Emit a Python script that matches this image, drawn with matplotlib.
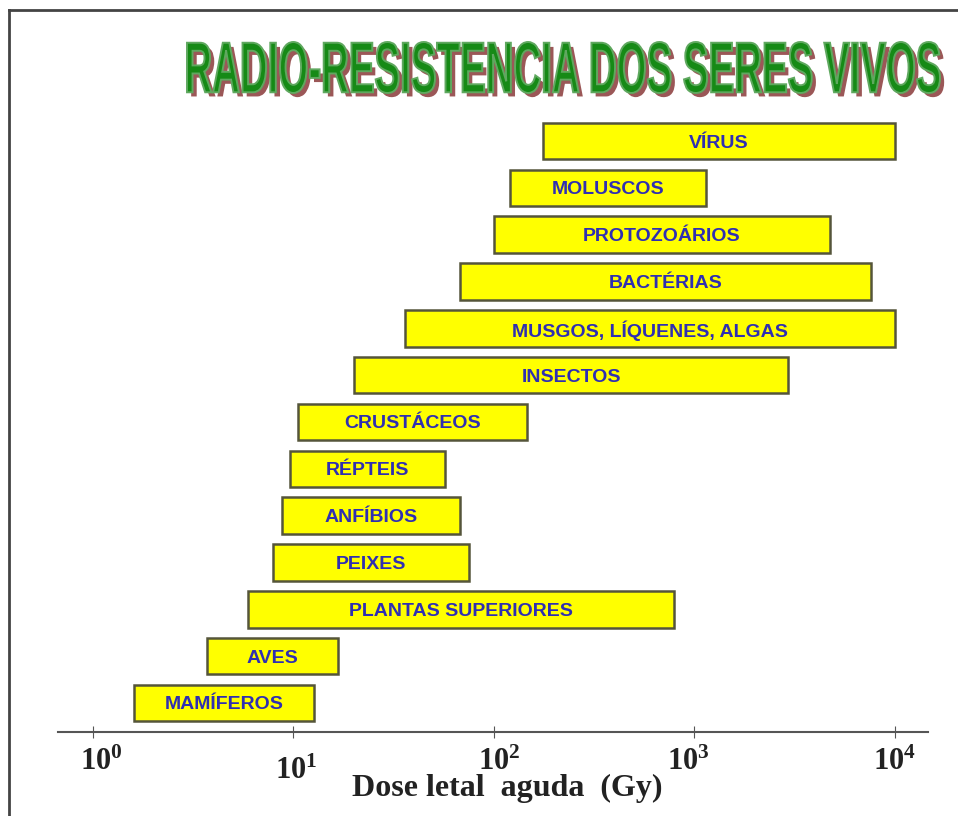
"""
Radio-resistencia dos seres vivos: faixa de dose letal aguda por grupo.
"""

import numpy as np
import matplotlib
matplotlib.use('Agg')
import matplotlib.pyplot as plt
import matplotlib.patheffects as pe
from matplotlib.textpath import TextPath
from matplotlib.patches import PathPatch
from matplotlib.font_manager import FontProperties
from matplotlib.transforms import Affine2D

plt.rcParams['mathtext.fontset'] = 'custom'
plt.rcParams['mathtext.rm'] = 'Liberation Serif'
plt.rcParams['mathtext.bf'] = 'Liberation Serif:bold'

# grupos de baixo para cima
grupos = ['MAMÍFEROS', 'AVES', 'PLANTAS SUPERIORES', 'PEIXES', 'ANFÍBIOS',
          'RÉPTEIS', 'CRUSTÁCEOS', 'INSECTOS', 'MUSGOS, LÍQUENES, ALGAS',
          'BACTÉRIAS', 'PROTOZOÁRIOS', 'MOLUSCOS', 'VÍRUS']
dose_min = [1.6, 3.7, 5.9, 7.9, 8.8, 9.6, 10.5, 20, 36, 68, 100, 120, 175]
dose_max = [12.6, 16.7, 790, 75, 68, 57, 146, 2950, 10000, 7600, 4750, 1150, 10000]
ticks = [1, 10, 100, 1000, 10000]
tick_labels = [r'$\mathbf{10^0}$', r'$\mathbf{10^1}$', r'$\mathbf{10^2}$',
               r'$\mathbf{10^3}$', r'$\mathbf{10^4}$']
tick_offsets = [(6, -11), (2, -17), (4, -11), (-4, -11), (0, -11)]  # desalinhados como no original
titulo = 'RADIO-RESISTENCIA DOS SERES VIVOS'

W, H = 958, 816
fig = plt.figure(figsize=(W / 100, H / 100), dpi=100)
ax = fig.add_axes([0.0605, 0.103, 0.908, 0.762])

y = np.arange(len(grupos))
lo = np.array(dose_min)
hi = np.array(dose_max)
ax.barh(y, hi - lo, left=lo, height=0.78, color='#ffff00',
        edgecolor='#55553a', linewidth=1.8)

for yi, name, a, b in zip(y, grupos, lo, hi):
    ax.text(np.sqrt(a * b), yi, name, ha='center', va='center_baseline',
            fontsize=14, fontweight='bold', color='#2f2fb2',
            family=['Liberation Sans', 'DejaVu Sans'])

ax.set_xscale('log')
ax.set_xlim(10 ** -0.175, 10 ** 4.165)
ax.set_ylim(-0.62, 12.66)
ax.set_yticks([])
for s in ['left', 'right', 'top']:
    ax.spines[s].set_visible(False)
ax.spines['bottom'].set_color('#555555')
ax.spines['bottom'].set_linewidth(1.5)

ax.set_xticks(ticks)
ax.xaxis.set_minor_locator(plt.NullLocator())
ax.set_xticklabels([])
ax.tick_params(axis='x', direction='inout', length=8, color='#555555')
for t, lab, off in zip(ticks, tick_labels, tick_offsets):
    ax.annotate(lab, (t, 0), xycoords=('data', 'axes fraction'),
                xytext=off, textcoords='offset points',
                ha='center', va='top', fontsize=22, color='#222222')

fig.text(0.529, 0.034, 'Dose letal  aguda  (Gy)', ha='center', va='center',
         fontsize=23, fontweight='bold', color='#222222',
         family='Liberation Serif')

# titulo estreito com sombra: texto em path, comprimido na horizontal
tp = TextPath((0, 0), titulo, size=50,
              prop=FontProperties(family='Liberation Sans', weight='bold'))
ext = tp.get_extents()
x0, x1, y0, y1 = 187, 940, H - 93, H - 42
tr = (Affine2D().translate(-ext.x0, -ext.y0)
      .scale((x1 - x0) / ext.width, (y1 - y0) / ext.height)
      .translate(x0, y0).scale(1 / W, 1 / H) + fig.transFigure)
title_patch = PathPatch(tp, transform=tr, facecolor='#168a16',
                        edgecolor='#5fa85f', linewidth=1.4)
title_patch.set_path_effects([
    pe.SimplePatchShadow(offset=(3, -3), shadow_rgbFace='#8a3a3a', alpha=0.85),
    pe.Normal()])
fig.add_artist(title_patch)

# moldura parcial (esquerda e topo)
fig.add_artist(plt.Line2D([0.009, 0.009], [0, 0.988], color='#444444', lw=2))
fig.add_artist(plt.Line2D([0.009, 1.0], [0.988, 0.988], color='#444444', lw=2))

fig.savefig('out.png', dpi=100)
